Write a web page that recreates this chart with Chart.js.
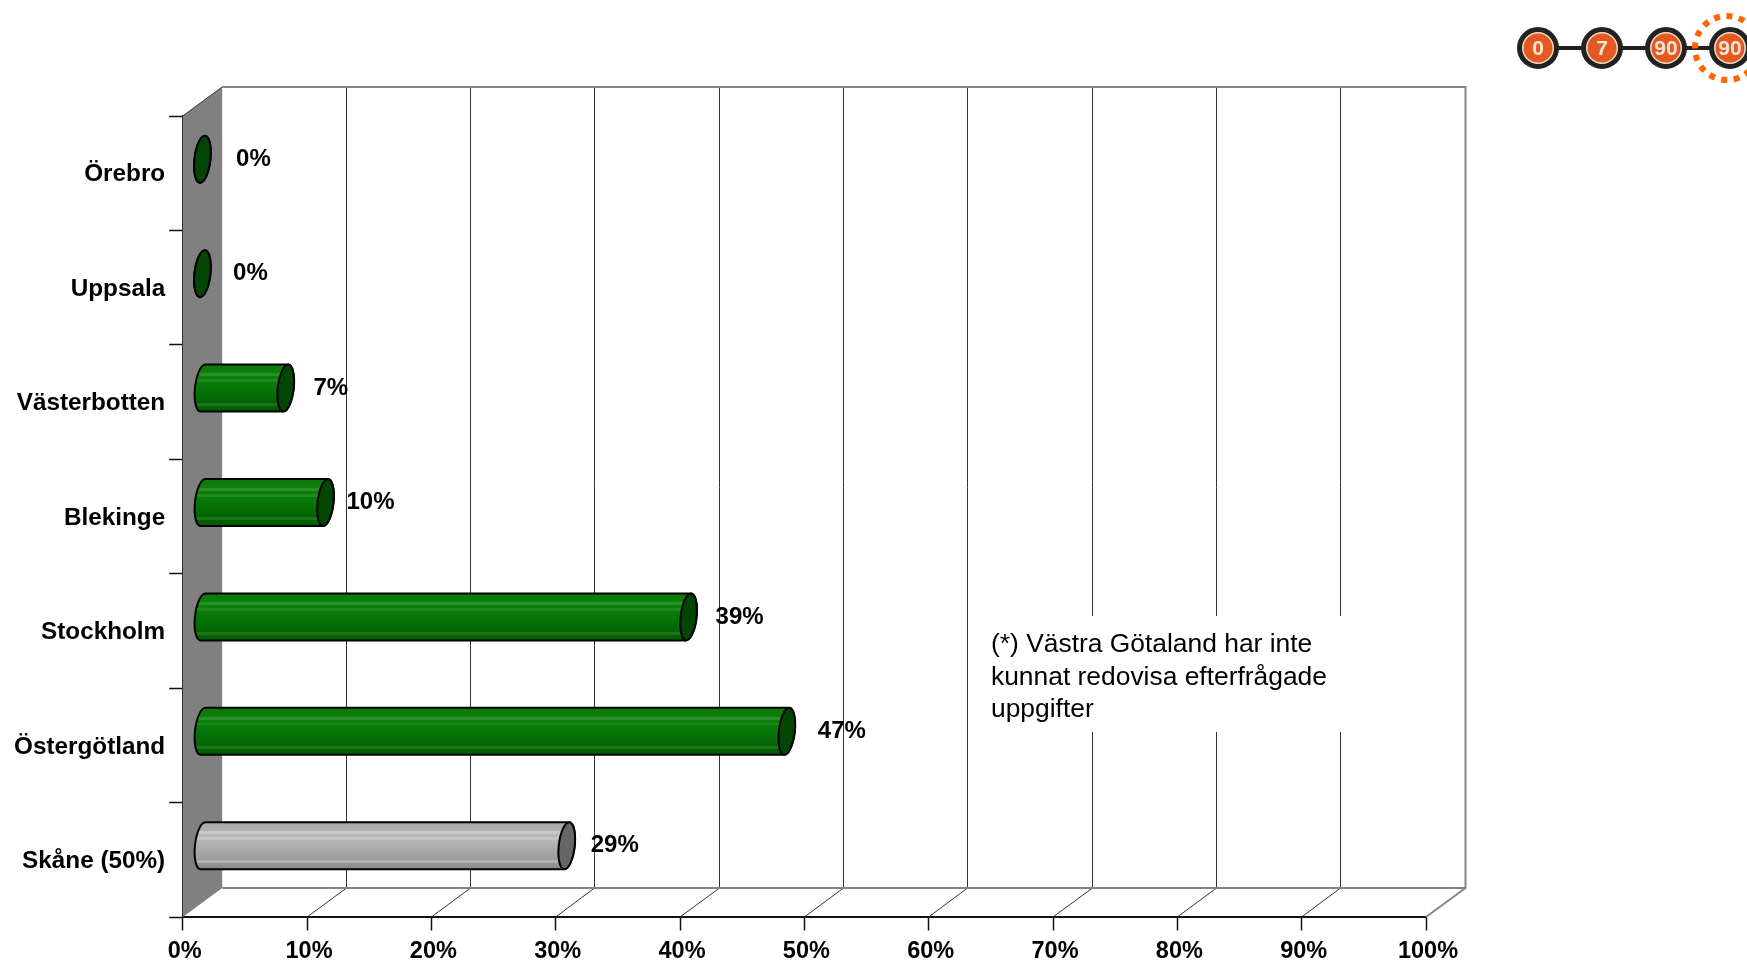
<!DOCTYPE html>
<html>
<head>
<meta charset="utf-8">
<style>
html, body { margin: 0; padding: 0; background: #fff; }
canvas { display: block; }
</style>
<script src="https://cdn.jsdelivr.net/npm/chart.js@4/dist/chart.umd.js"></script>
</head>
<body>
<canvas id="myChart" width="1747" height="962"></canvas>
<script>
// data, top row first
var categories = ['Örebro', 'Uppsala', 'Västerbotten', 'Blekinge', 'Stockholm', 'Östergötland', 'Skåne (50%)'];
var barValues = [0, 0, 6.7, 9.9, 39.1, 47, 29.3];
var shownValues = [0, 0, 7, 10, 39, 47, 29];
var xTicks = [0, 10, 20, 30, 40, 50, 60, 70, 80, 90, 100];
var noteLines = ['(*) Västra Götaland har inte', 'kunnat redovisa efterfrågade', 'uppgifter'];
var badgeLabels = ['0', '7', '90', '90'];

var FONT = '"Liberation Sans", Arial, sans-serif';
// depth of the fake 3d box
var depthX = 39.5, depthY = 29;
// the value labels are not evenly spaced in the original
var labelNudge = [2, -1, -4, -4, 2, 6, -1];

// bands from top to bottom of the cylinder, the pale ones are the thin highlights
var greenStops = ['#0a7a0a', '#0a7c0a', '#0b7e0b', '#2a8f2a', '#0a800a', '#1f881f', '#087c08', '#077807',
    '#067406', '#057005', '#046c04', '#046804', '#036403', '#1a741a', '#026002', '#025a02'];
var greyStops = ['#a8a8a8', '#acacac', '#b0b0b0', '#c8c8c8', '#b8b8b8', '#c4c4c4', '#b4b4b4', '#b0b0b0',
    '#acacac', '#a8a8a8', '#a4a4a4', '#a0a0a0', '#9c9c9c', '#b0b0b0', '#949494', '#8c8c8c'];

// cylinder instead of the flat bar
Chart.BarElement.prototype.draw = function (ctx) {
    var p = this.getProps(['x', 'y', 'base', 'height']);
    var h = p.height, rx = 8, skew = 0.1;
    var grey = this.options.backgroundColor === 'grey';
    var stops = grey ? greyStops : greenStops;

    ctx.save();
    ctx.translate(depthX / 2, p.y - depthY / 2 + 0.5);
    ctx.transform(1, 0, -skew, 1, 0, 0);

    var grad = ctx.createLinearGradient(0, -h / 2, 0, h / 2);
    for (var i = 0; i < stops.length; i++) {
        grad.addColorStop(i / stops.length, stops[i]);
        grad.addColorStop((i + 1) / stops.length, stops[i]);
    }
    ctx.beginPath();
    ctx.moveTo(p.base, -h / 2);
    ctx.lineTo(p.x, -h / 2);
    ctx.ellipse(p.x, 0, rx, h / 2, 0, -Math.PI / 2, Math.PI / 2);
    ctx.lineTo(p.base, h / 2);
    ctx.ellipse(p.base, 0, rx, h / 2, 0, Math.PI / 2, Math.PI * 1.5);
    ctx.closePath();
    ctx.fillStyle = grad;
    ctx.fill();
    ctx.strokeStyle = '#000';
    ctx.lineWidth = 2;
    ctx.stroke();

    // end of the cylinder
    ctx.beginPath();
    ctx.ellipse(p.x, 0, rx, h / 2, 0, 0, Math.PI * 2);
    ctx.fillStyle = grey ? '#666666' : '#034503';
    ctx.fill();
    ctx.stroke();
    ctx.restore();
};

// walls, floor and grid behind the bars
var boxPlugin = {
    id: 'box',
    beforeDatasetsDraw: function (chart) {
        var ctx = chart.ctx, x = chart.scales.x, a = chart.chartArea;
        var left = a.left, right = a.right, top = a.top, bottom = a.bottom;

        ctx.save();
        ctx.fillStyle = '#808080';
        ctx.beginPath();
        ctx.moveTo(left, top);
        ctx.lineTo(left + depthX, top - depthY);
        ctx.lineTo(left + depthX, bottom - depthY);
        ctx.lineTo(left, bottom);
        ctx.closePath();
        ctx.fill();

        ctx.lineWidth = 1;
        ctx.strokeStyle = '#333333';
        ctx.beginPath();
        ctx.moveTo(left, top);
        ctx.lineTo(left + depthX, top - depthY);
        ctx.stroke();

        xTicks.forEach(function (t) {
            if (t === 0 || t === 100) return;
            var px = x.getPixelForValue(t);
            var backX = Math.round(px + depthX) - 0.5;
            ctx.beginPath();
            ctx.moveTo(backX, top - depthY);
            ctx.lineTo(backX, bottom - depthY);
            ctx.moveTo(backX, bottom - depthY);
            ctx.lineTo(px, bottom);
            ctx.stroke();
        });

        ctx.lineWidth = 2;
        ctx.strokeStyle = '#858585';
        ctx.beginPath();
        ctx.moveTo(left + depthX, top - depthY);
        ctx.lineTo(right + depthX, top - depthY);
        ctx.lineTo(right + depthX, bottom - depthY);
        ctx.lineTo(left + depthX, bottom - depthY);
        ctx.moveTo(right + depthX, bottom - depthY);
        ctx.lineTo(right, bottom);
        ctx.stroke();
        ctx.restore();
    },
    afterDatasetsDraw: function (chart) {
        var ctx = chart.ctx, x = chart.scales.x, y = chart.scales.y;
        ctx.save();

        // value labels
        ctx.fillStyle = '#000';
        ctx.font = 'bold 24px ' + FONT;
        ctx.textAlign = 'center';
        ctx.textBaseline = 'middle';
        shownValues.forEach(function (v, i) {
            var px = x.getPixelForValue(barValues[i]) + depthX / 2 + 49 + labelNudge[i];
            var py = y.getPixelForValue(i) - depthY / 2 + 0.5;
            ctx.fillText(v + '%', px, py);
        });

        // note with white box over the grid
        var noteX = 991, noteY = 645;
        ctx.fillStyle = '#fff';
        ctx.fillRect(977, 616, 372, 116);
        ctx.fillStyle = '#000';
        ctx.font = '26.4px ' + FONT;
        ctx.textAlign = 'left';
        noteLines.forEach(function (line, i) {
            ctx.fillText(line, noteX, noteY + i * 32.3);
        });

        // badge row top right
        var bx = [1538, 1602, 1666, 1730], by = 48;
        ctx.strokeStyle = '#222';
        ctx.lineWidth = 4;
        ctx.beginPath();
        ctx.moveTo(bx[0], by);
        ctx.lineTo(bx[3], by);
        ctx.stroke();
        ctx.strokeStyle = '#ff6600';
        ctx.lineWidth = 6;
        ctx.setLineDash([6, 6.5]);
        ctx.beginPath();
        ctx.arc(1727, by, 32, 0, Math.PI * 2);
        ctx.stroke();
        ctx.setLineDash([]);
        badgeLabels.forEach(function (txt, i) {
            ctx.beginPath();
            ctx.arc(bx[i], by, 18.5, 0, Math.PI * 2);
            ctx.fillStyle = '#f3dcc8';
            ctx.fill();
            ctx.strokeStyle = '#222';
            ctx.lineWidth = 5;
            ctx.stroke();
            ctx.beginPath();
            ctx.arc(bx[i], by, 14.5, 0, Math.PI * 2);
            ctx.fillStyle = '#e25a22';
            ctx.fill();
            ctx.fillStyle = '#f7e4d2';
            ctx.font = 'bold 21px ' + FONT;
            ctx.textAlign = 'center';
            ctx.fillText(txt, bx[i], by + 1);
        });
        ctx.restore();
    }
};

new Chart(document.getElementById('myChart').getContext('2d'), {
    type: 'bar',
    data: {
        labels: categories,
        datasets: [{
            data: barValues,
            barThickness: 47,
            backgroundColor: function (c) {
                return c.dataIndex === categories.length - 1 ? 'grey' : 'green';
            }
        }]
    },
    plugins: [boxPlugin],
    options: {
        indexAxis: 'y',
        responsive: false,
        animation: false,
        devicePixelRatio: 1,
        layout: { padding: { top: 116, right: 321, left: 0, bottom: 0 } },
        plugins: { legend: { display: false }, tooltip: { enabled: false } },
        scales: {
            x: {
                min: 0,
                max: 100,
                afterFit: function (s) { s.height = 45; },
                afterBuildTicks: function (s) {
                    s.ticks = xTicks.map(function (t) { return { value: t }; });
                },
                border: { color: '#111', width: 2 },
                grid: { drawOnChartArea: false, tickLength: 13.5, tickColor: '#111', tickWidth: 1.5 },
                ticks: {
                    autoSkip: false,
                    maxRotation: 0,
                    padding: 7,
                    labelOffset: 2,
                    color: '#000',
                    font: { family: FONT, size: 23.5, weight: 'bold' },
                    callback: function (v) { return v + '%'; }
                }
            },
            y: {
                afterFit: function (s) { s.width = 182.7; },
                border: { color: '#111', width: 2 },
                grid: { offset: true, drawOnChartArea: false, tickLength: 13.5, tickColor: '#111', tickWidth: 1.5 },
                ticks: {
                    padding: 4,
                    labelOffset: 1.5,
                    color: '#000',
                    font: { family: FONT, size: 24.3, weight: 'bold' }
                }
            }
        }
    }
});
</script>
</body>
</html>
